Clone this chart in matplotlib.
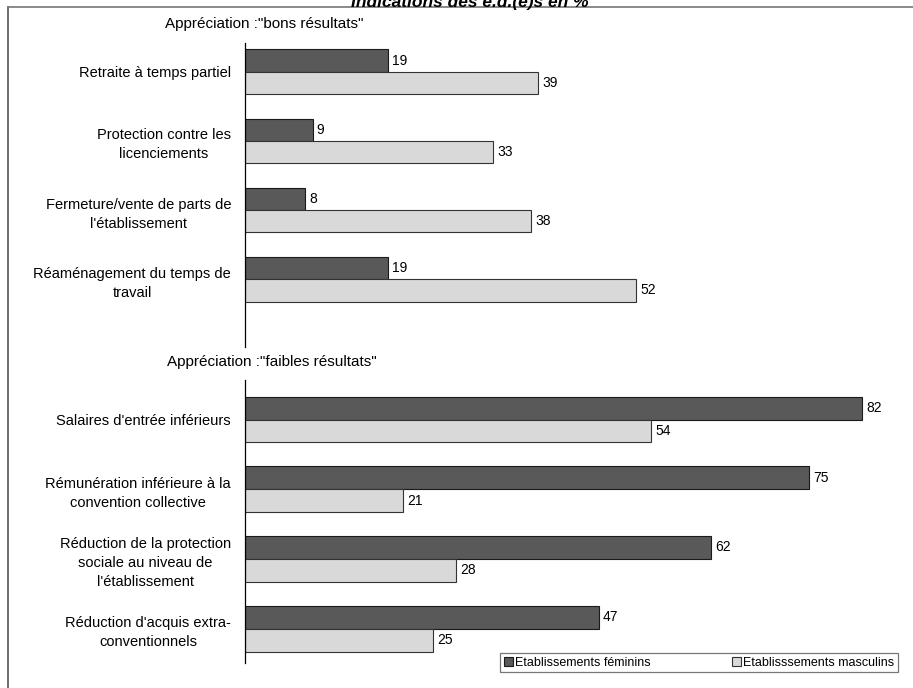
import matplotlib.pyplot as plt
from matplotlib.lines import Line2D
from matplotlib.patches import Patch

plt.rcParams['font.family'] = ['Liberation Sans', 'DejaVu Sans']

# Appréciation : "bons résultats"
bons_labels = ["Retraite à temps partiel",
               "Protection contre les\nlicenciements",
               "Fermeture/vente de parts de\nl'établissement",
               "Réaménagement du temps de\ntravail"]
bons_fem = [19, 9, 8, 19]
bons_masc = [39, 33, 38, 52]

# Appréciation : "faibles résultats"
faibles_labels = ["Salaires d'entrée inférieurs",
                  "Rémunération inférieure à la\nconvention collective",
                  "Réduction de la protection\nsociale au niveau de\nl'établissement",
                  "Réduction d'acquis extra-\nconventionnels"]
faibles_fem = [82, 75, 62, 47]
faibles_masc = [54, 21, 28, 25]

legend_labels = ["Etablissements féminins", "Etablisssements masculins"]
title = "Indications des e.d.(e)s en %"

DARK = "#595959"
LIGHT = "#d9d9d9"
W, H = 913, 688


def px_axes(fig, x0, y0, x1, y1):
    return fig.add_axes([x0 / W, 1 - y1 / H, (x1 - x0) / W, (y1 - y0) / H])


def draw_panel(ax, labels, fem, masc, ylim, h):
    pos = list(range(len(labels)))
    ax.barh([p - h / 2 for p in pos], fem, height=h, color=DARK,
            edgecolor="#1a1a1a", linewidth=0.8)
    ax.barh([p + h / 2 for p in pos], masc, height=h, color=LIGHT,
            edgecolor="#333333", linewidth=0.8)
    for p, v in zip(pos, fem):
        ax.text(v + 0.55, p - h / 2, str(v), va="center", ha="left", fontsize=10)
    for p, v in zip(pos, masc):
        ax.text(v + 0.55, p + h / 2, str(v), va="center", ha="left", fontsize=10)
    ax.set_xlim(0, 88)
    ax.set_ylim(*ylim)
    ax.set_yticks(pos)
    ax.set_yticklabels(labels, fontsize=10.5)
    for lab in ax.get_yticklabels():
        lab.set_multialignment("center")
        lab.set_linespacing(1.45)
    ax.tick_params(axis="y", length=0, pad=10)
    ax.set_xticks([])
    for s in ["top", "right", "bottom"]:
        ax.spines[s].set_visible(False)
    ax.spines["left"].set_linewidth(0.9)
    ax.patch.set_alpha(0)


fig = plt.figure(figsize=(W / 100, H / 100), dpi=100)

# outer frame (left and top edges)
fig.add_artist(Line2D([8 / W, 8 / W], [0, 1 - 7 / H], color="#555555", lw=1.2))
fig.add_artist(Line2D([8 / W, 1], [1 - 7 / H, 1 - 7 / H], color="#777777", lw=1.2))

fig.text(470 / W, 1 - 7 / H, title, ha="center", va="baseline",
         fontsize=12.5, fontweight="bold", fontstyle="italic")

ax1 = px_axes(fig, 245, 43, 907, 347)
draw_panel(ax1, bons_labels, bons_fem, bons_masc, (3.976, -0.413), 0.32)

ax2 = px_axes(fig, 245, 380, 907, 663)
draw_panel(ax2, faibles_labels, faibles_fem, faibles_masc, (3.495, -0.567), 0.33)

fig.text(165 / W, 1 - 24 / H, 'Appréciation :"bons résultats"', va="center", fontsize=11)
fig.text(167 / W, 1 - 362 / H, 'Appréciation :"faibles résultats"', va="center", fontsize=11)

handles = [Patch(facecolor=DARK, edgecolor="#1a1a1a", linewidth=0.8),
           Patch(facecolor=LIGHT, edgecolor="#333333", linewidth=0.8)]
leg = fig.legend(handles, legend_labels, ncol=2, fontsize=9,
                 loc="center", bbox_to_anchor=(699 / W, 1 - 662.5 / H),
                 fancybox=False, edgecolor="#555555", handlelength=0.7,
                 handleheight=0.7, handletextpad=0.2, columnspacing=6.5,
                 borderpad=0.3, borderaxespad=0)
leg.get_frame().set_linewidth(0.9)

fig.savefig("out.png", dpi=100)
